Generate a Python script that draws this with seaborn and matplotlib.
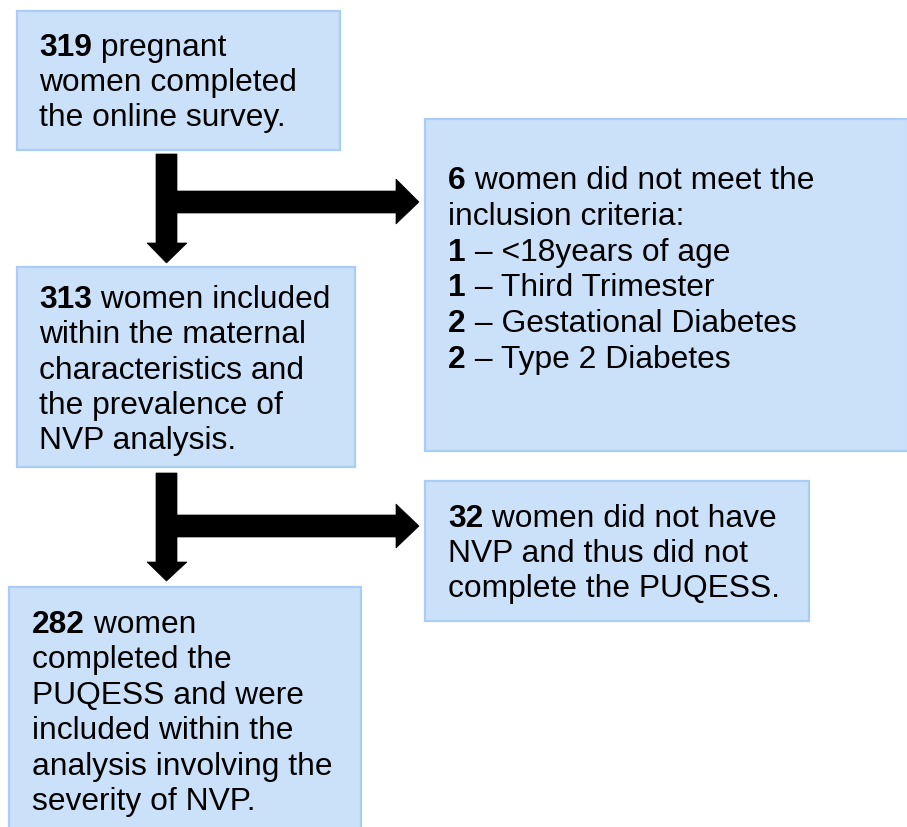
import matplotlib
matplotlib.use("Agg")
import matplotlib.pyplot as plt
from matplotlib.patches import Rectangle, Polygon
import seaborn as sns

# ---- data (flowchart content) ----
counts_main = [319, 313, 282]
main_texts = [
    [" pregnant", "women completed", "the online survey."],
    [" women included", "within the maternal", "characteristics and",
     "the prevalence of", "NVP analysis."],
    [" women", "completed the", "PUQESS and were", "included within the",
     "analysis involving the", "severity of NVP."],
]
excluded_counts = [6, 32]
excluded_texts = [
    [" women did not meet the", "inclusion criteria:"],
    [" women did not have", "NVP and thus did not", "complete the PUQESS."],
]
reason_counts = [1, 1, 2, 2]
reason_labels = ["<18years of age", "Third Trimester", "Gestational Diabetes",
                 "Type 2 Diabetes"]

# ---- layout (pixels, y downward) ----
W, H = 907, 827
FILL = "#cbe0f9"
EDGE = "#a9cdf4"
FS = 22.9
FAM = ["Liberation Sans", "DejaVu Sans"]

main_boxes = [(17, 11, 340, 150), (17, 267, 355, 467), (9, 587, 361, 835)]
main_text_pos = [(39, 56, 35), (39, 308, 35.3), (32, 633, 35.4)]
excl_boxes = [(425, 119, 908, 451), (425, 481, 809, 621)]
excl_text_pos = [(448, 189, 35.8), (448, 527, 35.2)]

sns.set_theme(style="white")
plt.rcParams["font.family"] = FAM

fig = plt.figure(figsize=(W / 100, H / 100), dpi=100)
ax = fig.add_axes([0, 0, 1, 1])
ax.set_xlim(0, W)
ax.set_ylim(H, 0)
ax.axis("off")


def box(b):
    x0, y0, x1, y1 = b
    ax.add_patch(Rectangle((x0, y0), x1 - x0, y1 - y0, facecolor=FILL,
                           edgecolor=EDGE, linewidth=1.6, zorder=1))


def bold_line(x, y, num, rest):
    t = ax.text(x, y, str(num), fontsize=FS, fontweight="bold",
                va="baseline", ha="left", color="black", zorder=3)
    ax.annotate(rest, xy=(1, 0), xycoords=t, va="bottom", ha="left",
                fontsize=FS, color="black", zorder=3)


def plain_line(x, y, s):
    ax.text(x, y, s, fontsize=FS, va="baseline", ha="left", color="black",
            zorder=3)


def block(pos, num, lines, extra=None):
    x, y, ls = pos
    bold_line(x, y, num, lines[0])
    for i, s in enumerate(lines[1:], start=1):
        plain_line(x, y + i * ls, s)
    if extra:
        n0 = len(lines)
        for j, (c, lab) in enumerate(extra):
            bold_line(x, y + (n0 + j) * ls, c, " \u2013 " + lab)


for b in main_boxes:
    box(b)
for b in excl_boxes:
    box(b)

for pos, n, lines in zip(main_text_pos, counts_main, main_texts):
    block(pos, n, lines)
block(excl_text_pos[0], excluded_counts[0], excluded_texts[0],
      list(zip(reason_counts, reason_labels)))
block(excl_text_pos[1], excluded_counts[1], excluded_texts[1])


def tee_arrow(top, hy0, hy1, hh0, hh1, vh0, vtip):
    xs0, xs1 = 156, 177
    hx, tipx = 396, 419
    hy = (hy0 + hy1) / 2
    pts = [(xs0, top), (xs1, top), (xs1, hy0), (hx, hy0), (hx, hh0),
           (tipx, hy), (hx, hh1), (hx, hy1), (xs1, hy1), (xs1, vh0),
           (187, vh0), ((xs0 + xs1) / 2, vtip), (147, vh0), (xs0, vh0)]
    ax.add_patch(Polygon(pts, closed=True, facecolor="black",
                         edgecolor="black", linewidth=0.5, zorder=2))


tee_arrow(154, 191, 213, 179, 224, 243, 263)
tee_arrow(473, 515, 537, 504, 548, 562, 581)

fig.savefig("out.png", dpi=100, facecolor="white")
